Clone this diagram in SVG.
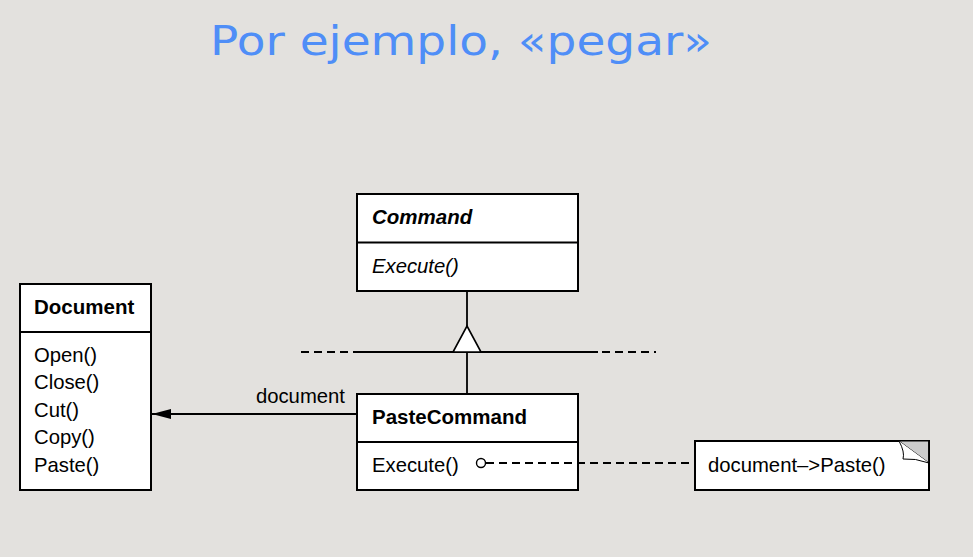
<svg xmlns="http://www.w3.org/2000/svg" width="973" height="557" viewBox="0 0 973 557">
<style>
.box{fill:#fff;stroke:#000;stroke-width:2}
.ln{stroke:#000;stroke-width:1.8;fill:none}
.t{font-family:"Liberation Sans",Arial,sans-serif;font-size:20.3px;fill:#000}
.b{font-weight:bold;font-size:20.5px}
.i{font-style:italic}
.dash{stroke:#000;stroke-width:1.8;stroke-dasharray:8,5;fill:none}
</style>
<defs>
<marker id="arr" markerWidth="20" markerHeight="12" refX="19" refY="6" orient="auto" markerUnits="userSpaceOnUse">
<path d="M0,1 L19,6 L0,11 Z" fill="#000"/>
</marker>
</defs>
<rect width="973" height="557" fill="#e3e1de"/>
<text x="210" y="55" font-family="'DejaVu Sans',sans-serif" font-size="40" fill="#4f8ef7" textLength="502" lengthAdjust="spacingAndGlyphs">Por ejemplo, «pegar»</text>

<g id="command">
<rect class="box" x="357" y="194" width="221" height="97"/>
<line class="ln" x1="357" y1="242.5" x2="578" y2="242.5" stroke-width="2"/>
<text class="t b i" x="372" y="224">Command</text>
<text class="t i" x="372" y="273">Execute()</text>
</g>

<g id="document">
<rect class="box" x="20" y="284" width="131" height="206"/>
<line class="ln" x1="20" y1="332" x2="151" y2="332" stroke-width="2"/>
<text class="t b" x="34" y="314">Document</text>
<text class="t" x="34" y="362">Open()</text>
<text class="t" x="34" y="389">Close()</text>
<text class="t" x="34" y="417">Cut()</text>
<text class="t" x="34" y="444">Copy()</text>
<text class="t" x="34" y="472">Paste()</text>
</g>

<g id="pastecommand">
<rect class="box" x="357" y="394" width="221" height="96"/>
<line class="ln" x1="357" y1="442" x2="578" y2="442" stroke-width="2"/>
<text class="t b" x="372" y="424">PasteCommand</text>
<text class="t" x="372" y="472">Execute()</text>
</g>

<g id="note">
<rect class="box" x="695" y="441" width="234" height="49"/>
<polygon points="899,441 929,441 929,463" fill="#cccccc" stroke="#000" stroke-width="1"/>
<path d="M899,441 Q905,452 903,459 Q915,458 929,463" fill="#fff" stroke="#000" stroke-width="1"/>
<line class="ln" x1="929" y1="441" x2="929" y2="490" stroke-width="2"/>
<text class="t" x="708" y="472">document–&gt;Paste()</text>
</g>

<g id="connectors">
<line class="ln" x1="467" y1="291" x2="467" y2="326"/>
<line class="ln" x1="357" y1="352" x2="598" y2="352"/>
<line class="dash" x1="301" y1="352" x2="357" y2="352"/>
<line class="dash" x1="602" y1="352" x2="656" y2="352"/>
<polygon points="467,326 481,352 453,352" fill="#fff" stroke="#000" stroke-width="1.6"/>
<line class="ln" x1="467" y1="352" x2="467" y2="394"/>
<line class="ln" x1="357" y1="414" x2="152" y2="414" marker-end="url(#arr)"/>
<text class="t" x="345" y="403" text-anchor="end">document</text>
<circle cx="481" cy="463" r="4.5" fill="#fff" stroke="#000" stroke-width="1.4"/>
<line class="dash" x1="486" y1="463" x2="695" y2="463"/>
</g>
</svg>
